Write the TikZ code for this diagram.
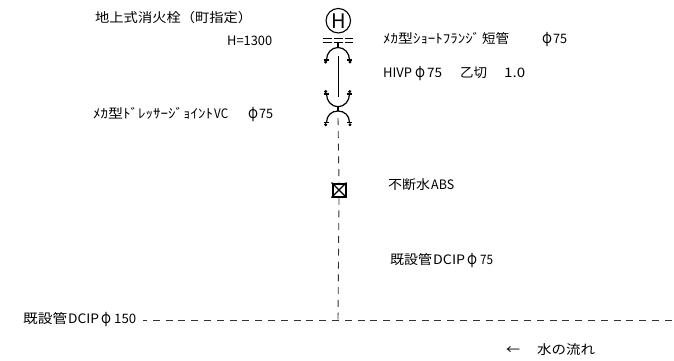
\documentclass[tikz,border=0pt]{standalone}
\usepackage{graphicx}
\usepackage{fontspec}
\setmainfont{Noto Sans CJK JP}
\newcommand{\fw}[2]{\resizebox{#1pt}{\height}{#2}}
\newcommand{\phic}{\resizebox{10pt}{\height}{\fontsize{16}{16}\selectfont φ}}
\tikzset{
  lbl/.style={inner sep=0pt,anchor=base west,font=\fontsize{13}{14}\selectfont,text=black},
  pipe/.style={line width=1pt,black},
  flange/.style={line width=1.2pt,black},
  hidden/.style={line width=0.9pt,black!80,dash pattern=on 7pt off 5.8pt},
  bolt/.style={circle,fill=black,inner sep=0pt,minimum size=3.4pt},
  hydrant/.style={circle,draw=black,line width=1.1pt,minimum size=24.5pt,inner sep=0pt},
  valve/.style={rectangle,draw=black,line width=2pt,minimum size=13pt,inner sep=0pt},
}
\begin{document}
\begin{tikzpicture}[x=1pt,y=-1pt]
\useasboundingbox (0,0) rectangle (674,360);
% labels
\node[lbl] (t1) at (95,22) {\fw{157}{地上式消火栓（町指定）}};
\node[lbl] (t2) at (227,45.5) {\fw{45}{H=1300}};
\node[lbl] (t3a) at (93,118) {\fw{120}{ﾒｶ型ﾄﾞﾚｯｻｰｼﾞｮｲﾝﾄ}};
\node[lbl] (t3b) at (214,118) {\fw{14}{VC}};
\node[lbl] (t3c) at (248,118) {\phic};
\node[lbl] (t3d) at (259,118) {\fw{14}{75}};
\node[lbl] (t4a) at (383,43) {\fw{97}{ﾒｶ型ｼｮｰﾄﾌﾗﾝｼﾞ}};
\node[lbl] (t4b) at (482,43) {\fw{27}{短管}};
\node[lbl] (t4c) at (542,43) {\phic};
\node[lbl] (t4d) at (553,43) {\fw{14}{75}};
\node[lbl] (t5a) at (383,77) {\fw{29}{HIVP}};
\node[lbl] (t5b) at (415,77) {\phic};
\node[lbl] (t5c) at (427,77) {\fw{15}{75}};
\node[lbl] (t5d) at (460,77) {\fw{27}{乙切}};
\node[lbl] (t5e) at (504,77) {\fw{21}{1.0}};
\node[lbl] (t6a) at (388,189) {\fw{42}{不断水}};
\node[lbl] (t6b) at (431,189) {\fw{23}{ABS}};
\node[lbl] (t7a) at (390,264) {\fw{42}{既設管}};
\node[lbl] (t7b) at (433,264) {\fw{32}{DCIP}};
\node[lbl] (t7c) at (467,264) {\phic};
\node[lbl] (t7d) at (480,264) {\fw{13}{75}};
\node[lbl] (t8a) at (23,323) {\fw{44}{既設管}};
\node[lbl] (t8b) at (68,323) {\fw{31}{DCIP}};
\node[lbl] (t8c) at (101,323) {\phic};
\node[lbl] (t8d) at (114,323) {\fw{22}{150}};
\node[lbl] (t9a) at (506,354) {\fw{14}{←}};
\node[lbl] (t9b) at (537,354) {\fw{58}{水の流れ}};
% hydrant
\node[hydrant,font=\fontsize{20}{20}\selectfont] (hyd) at (338.3,20.7) {H};
% valve
\node[valve] (val) at (339,190) {};
\draw[line width=1.1pt] (val.north west) -- (val.south east) (val.north east) -- (val.south west);
% short flange double lines
\foreach \yy in {38.3,42.8}{
  \draw[flange] (322.5,\yy) -- (332,\yy);
  \draw[flange] (334,\yy) -- (343,\yy);
  \draw[flange] (345,\yy) -- (353,\yy);
}
% points
\coordinate (f1) at (338,42.8);
\coordinate (f2) at (338,47.5);
\coordinate (p1) at (338,56);
\coordinate (p2) at (338,97);
\coordinate (j1) at (338,106.7);
\coordinate (j2) at (338,111);
\coordinate (d1) at (338,118);
\coordinate (d2) at (338,320);
\coordinate (m1) at (143,320);
\coordinate (m2) at (674,320);
% upper joint
\draw[flange] (f1) -- (f2);
\draw[flange] (326.5,60) .. controls (326.5,53) and (331.5,47.5) .. (f2) .. controls (344.5,47.5) and (349.5,53) .. (349.5,60);
\draw[flange] (323.5,60) -- (329,60) (346.5,60) -- (352,60);
\node[bolt] (b1) at (325.7,62) {}; \node[bolt] (b2) at (350,62) {};
% pipe
\draw[pipe] (p1) -- (p2);
% middle joint
\draw[flange] (326.5,94) .. controls (326.5,101) and (331.5,106.7) .. (j1) .. controls (344.5,106.7) and (349.5,101) .. (349.5,94);
\draw[flange] (323.5,94) -- (329,94) (346.5,94) -- (352,94);
\node[bolt] (b3) at (325.7,91.5) {}; \node[bolt] (b4) at (349.7,91.5) {};
\draw[flange] (j1) -- (j2);
% lower joint
\draw[flange] (326.5,122.5) .. controls (326.5,115.5) and (331.5,111) .. (j2) .. controls (344.5,111) and (349.5,115.5) .. (349.5,122.5);
\draw[flange] (323.5,122.5) -- (329,122.5) (346.5,122.5) -- (352,122.5);
\node[bolt] (b5) at (325.7,124.7) {}; \node[bolt] (b6) at (350,124.7) {};
% hidden pipes
\draw[hidden] (d1) -- (val.north);
\draw[hidden] (val.south) -- (d2);
\draw[hidden,dash phase=3pt] (m1) -- (m2);
\end{tikzpicture}
\end{document}
